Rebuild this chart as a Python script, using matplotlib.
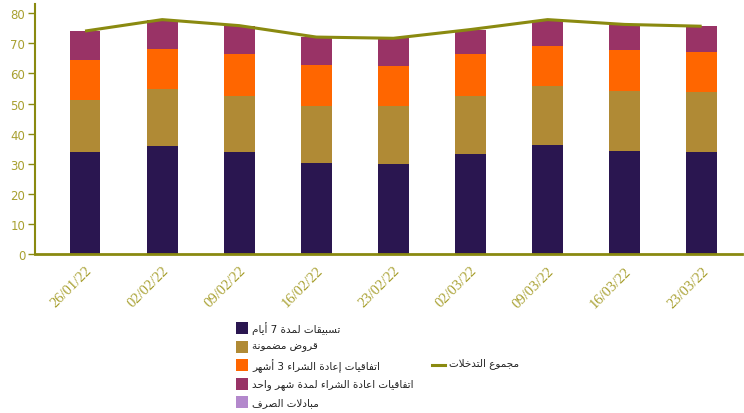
import matplotlib
matplotlib.use("Agg")
import matplotlib.pyplot as plt
from matplotlib.patches import Rectangle
from matplotlib.lines import Line2D
import numpy as np

# ---------------- data ----------------
dates = ["26/01/22", "02/02/22", "09/02/22", "16/02/22", "23/02/22",
         "02/03/22", "09/03/22", "16/03/22", "23/03/22"]
avances_7j = [33.8, 35.8, 33.8, 30.3, 29.9, 33.2, 36.2, 34.3, 33.8]
prets_garantis = [17.3, 19.0, 18.8, 19.0, 19.2, 19.4, 19.6, 20.0, 20.0]
pensions_3m = [13.4, 13.3, 13.9, 13.5, 13.3, 13.9, 13.4, 13.4, 13.4]
pensions_1m = [9.6, 9.8, 9.4, 9.3, 9.3, 8.1, 8.7, 8.6, 8.5]
swaps_change = [0, 0, 0, 0, 0, 0, 0, 0, 0]

series_labels = ["تسبيقات لمدة 7 أيام", "قروض مضمونة",
                 "اتفاقيات إعادة الشراء 3 أشهر",
                 "اتفاقيات اعادة الشراء لمدة شهر واحد", "مبادلات الصرف"]
total_label = "مجموع التدخلات"
yticks = [0, 10, 20, 30, 40, 50, 60, 70, 80]

# ---------------- minimal Arabic shaping ----------------
_F = {
    'ء': (0xFE80, 'U'), 'آ': (0xFE81, 'R'), 'أ': (0xFE83, 'R'), 'ؤ': (0xFE85, 'R'),
    'إ': (0xFE87, 'R'), 'ئ': (0xFE89, 'D'), 'ا': (0xFE8D, 'R'), 'ب': (0xFE8F, 'D'),
    'ة': (0xFE93, 'R'), 'ت': (0xFE95, 'D'), 'ث': (0xFE99, 'D'), 'ج': (0xFE9D, 'D'),
    'ح': (0xFEA1, 'D'), 'خ': (0xFEA5, 'D'), 'د': (0xFEA9, 'R'), 'ذ': (0xFEAB, 'R'),
    'ر': (0xFEAD, 'R'), 'ز': (0xFEAF, 'R'), 'س': (0xFEB1, 'D'), 'ش': (0xFEB5, 'D'),
    'ص': (0xFEB9, 'D'), 'ض': (0xFEBD, 'D'), 'ط': (0xFEC1, 'D'), 'ظ': (0xFEC5, 'D'),
    'ع': (0xFEC9, 'D'), 'غ': (0xFECD, 'D'), 'ف': (0xFED1, 'D'), 'ق': (0xFED5, 'D'),
    'ك': (0xFED9, 'D'), 'ل': (0xFEDD, 'D'), 'م': (0xFEE1, 'D'), 'ن': (0xFEE5, 'D'),
    'ه': (0xFEE9, 'D'), 'و': (0xFEED, 'R'), 'ى': (0xFEEF, 'R'), 'ي': (0xFEF1, 'D'),
}
_LA = {'آ': 0xFEF5, 'أ': 0xFEF7, 'إ': 0xFEF9, 'ا': 0xFEFB}


def shape(s):
    ch = list(s)
    n = len(ch)
    out = []
    i = 0
    while i < n:
        c = ch[i]
        if c not in _F:
            out.append(c)
            i += 1
            continue
        prev = ch[i - 1] if i > 0 else None
        nxt = ch[i + 1] if i + 1 < n else None
        cp = prev in _F and _F[prev][1] == 'D'
        if c == 'ل' and nxt in _LA:
            out.append(chr(_LA[nxt] + (1 if cp else 0)))
            i += 2
            continue
        base, t = _F[c]
        cn = t == 'D' and nxt in _F and _F[nxt][1] != 'U'
        if t == 'U':
            off = 0
        elif t == 'R':
            off = 1 if cp else 0
        else:
            off = 3 if (cp and cn) else (1 if cp else (2 if cn else 0))
        out.append(chr(base + off))
        i += 1
    return ''.join(reversed(out))


# ---------------- plot ----------------
colors = ["#2a1650", "#b08a35", "#ff6600", "#993366", "#b388cc"]
olive = "#8a8a10"
ticklab = "#a8a030"
W, H = 744, 414

fig = plt.figure(figsize=(W / 100, H / 100), dpi=100)
ax = fig.add_axes([0.047, 0.384, 0.95, 0.604])

x = np.arange(len(dates))
series = [avances_7j, prets_garantis, pensions_3m, pensions_1m, swaps_change]
bottom = np.zeros(len(dates))
for vals, col in zip(series, colors):
    v = np.array(vals, dtype=float)
    ax.bar(x, v, width=0.4, bottom=bottom, color=col, edgecolor="none", zorder=2)
    bottom += v

total = bottom
ax.plot(x, total, color=olive, lw=2.2, zorder=3, solid_capstyle="butt")

ax.set_xlim(-0.65, 8.52)
ax.set_ylim(0, 83.1)
ax.set_yticks(yticks)
ax.set_xticks(x)
ax.set_xticklabels(dates, rotation=45, ha="right", rotation_mode="anchor",
                   family="Liberation Serif", fontsize=10.5, color=ticklab)
for lab in ax.get_yticklabels():
    lab.set_family("DejaVu Sans")
    lab.set_fontsize(8.5)
    lab.set_color(ticklab)
ax.tick_params(axis="y", length=5, width=1, color=olive, pad=2)
ax.tick_params(axis="x", length=0, pad=7)
for s in ["top", "right"]:
    ax.spines[s].set_visible(False)
ax.spines["left"].set_color(olive)
ax.spines["left"].set_linewidth(1.5)
ax.spines["bottom"].set_color(olive)
ax.spines["bottom"].set_linewidth(2)

# ---------------- legends (manual layout) ----------------
row_y = [329, 347.5, 366, 384.5, 403]
for yc, col, lab in zip(row_y, colors, series_labels):
    fig.add_artist(Rectangle((236 / W, 1 - (yc + 6) / H), 12 / W, 12 / H,
                             transform=fig.transFigure, facecolor=col,
                             edgecolor="none"))
    fig.text(252 / W, 1 - yc / H, shape(lab), ha="left", va="center",
             family="DejaVu Sans", fontsize=7.5, color="#222222")

fig.add_artist(Line2D([432 / W, 445 / W], [1 - 365.5 / H, 1 - 365.5 / H],
                      transform=fig.transFigure, color=olive, lw=2.2))
fig.text(449 / W, 1 - 364 / H, shape(total_label), ha="left", va="center",
         family="DejaVu Sans", fontsize=7.5, color="#222222")

fig.savefig("out.png", dpi=100)
